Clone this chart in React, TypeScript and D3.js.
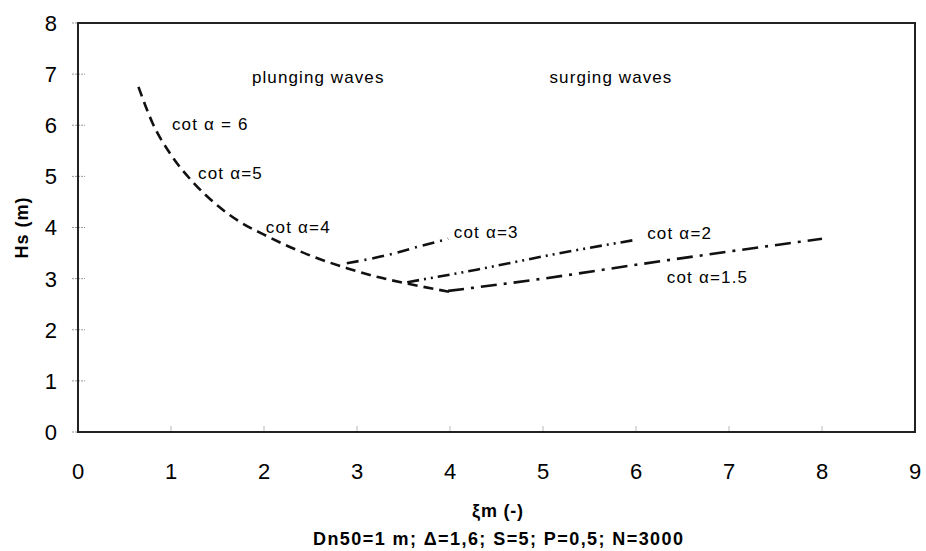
import React from "react";
import * as d3 from "d3";

// values (xi_m, Hs)
const plunging: [number, number][] = [
  [0.65, 6.75], [0.8, 6.05], [1.0, 5.42], [1.25, 4.86], [1.5, 4.43], [1.75, 4.1],
  [2.0, 3.86], [2.5, 3.45], [2.9, 3.2], [3.25, 3.02], [3.55, 2.9], [4.0, 2.74],
];
const cot3: [number, number][] = [[2.89, 3.3], [3.3, 3.45], [3.65, 3.62], [3.98, 3.78]];
const cot2: [number, number][] = [[3.54, 2.93], [4.3, 3.18], [5.1, 3.47], [6.0, 3.76]];
const cot15: [number, number][] = [[3.98, 2.76], [5.0, 3.0], [6.0, 3.27], [7.0, 3.53], [8.0, 3.78]];

const xTicks = [0, 1, 2, 3, 4, 5, 6, 7, 8, 9];
const yTicks = [0, 1, 2, 3, 4, 5, 6, 7, 8];

const curveLabels = [
  { t: "cot α = 6", x: 1.01, y: 5.9 },
  { t: "cot α=5", x: 1.29, y: 4.95 },
  { t: "cot α=4", x: 2.02, y: 3.9 },
  { t: "cot α=3", x: 4.04, y: 3.8 },
  { t: "cot α=2", x: 6.12, y: 3.78 },
  { t: "cot α=1.5", x: 6.33, y: 2.92 },
];
const zoneLabels = [
  { t: "plunging waves", x: 1.87, y: 6.83 },
  { t: "surging waves", x: 5.07, y: 6.83 },
];

const W = 926, H = 551;
const m = { left: 78, right: 11, top: 23, bottom: 119 };

export default function App() {
  const x = d3.scaleLinear().domain([0, 9]).range([m.left, W - m.right]);
  const y = d3.scaleLinear().domain([0, 8]).range([H - m.bottom, m.top]);
  const line = d3.line<[number, number]>().x(d => x(d[0])).y(d => y(d[1])).curve(d3.curveMonotoneX);
  const font = "'Liberation Sans', Arial, sans-serif";

  const series = [
    { d: plunging, dash: "10,6" },
    { d: cot3, dash: "12,6,2,6" },
    { d: cot2, dash: "12,5,2,5,2,5" },
    { d: cot15, dash: "16,7,3,7" },
  ];

  return (
    <svg width={W} height={H} style={{ position: "absolute", left: 0, top: 0, background: "#fff" }} fontFamily={font}>
      {yTicks.map(t => (
        <g key={"y" + t}>
          <line x1={x(0) - 6} x2={x(0) + 7} y1={y(t)} y2={y(t)} stroke="#999" strokeWidth={1} strokeDasharray="2,1" />
          <text x={x(0) - 21} y={y(t)} dy="0.36em" textAnchor="end" fontSize={22}>{t}</text>
        </g>
      ))}
      {xTicks.map(t => (
        <g key={"x" + t}>
          <line x1={x(t)} x2={x(t)} y1={y(0)} y2={y(0) - 6} stroke="#bbb" strokeWidth={1} />
          <text x={x(t)} y={y(0) + 47} textAnchor="middle" fontSize={22}>{t}</text>
        </g>
      ))}
      <rect x={x(0)} y={y(8)} width={x(9) - x(0)} height={y(0) - y(8)} fill="none" stroke="#222" strokeWidth={2} />

      {series.map((s, i) => (
        <path key={i} d={line(s.d) ?? ""} fill="none" stroke="#111" strokeWidth={2.6} strokeDasharray={s.dash} />
      ))}

      {curveLabels.map((l, i) => (
        <text key={i} x={x(l.x)} y={y(l.y)} fontSize={17} letterSpacing={1.2}>{l.t}</text>
      ))}
      {zoneLabels.map((l, i) => (
        <text key={i} x={x(l.x)} y={y(l.y)} fontSize={17} letterSpacing={1.1}>{l.t}</text>
      ))}

      <text transform={`translate(28,${(y(0) + y(8)) / 2}) rotate(-90)`} textAnchor="middle" fontSize={18} fontWeight="bold" letterSpacing={1}>Hs (m)</text>
      <text x={498} y={517} textAnchor="middle" fontSize={18} fontWeight="bold" letterSpacing={0.8}>ξm (-)</text>
      <text x={498} y={545} textAnchor="middle" fontSize={18} fontWeight="bold" textLength={370} lengthAdjust="spacing">Dn50=1 m; Δ=1,6; S=5; P=0,5; N=3000</text>
    </svg>
  );
}
